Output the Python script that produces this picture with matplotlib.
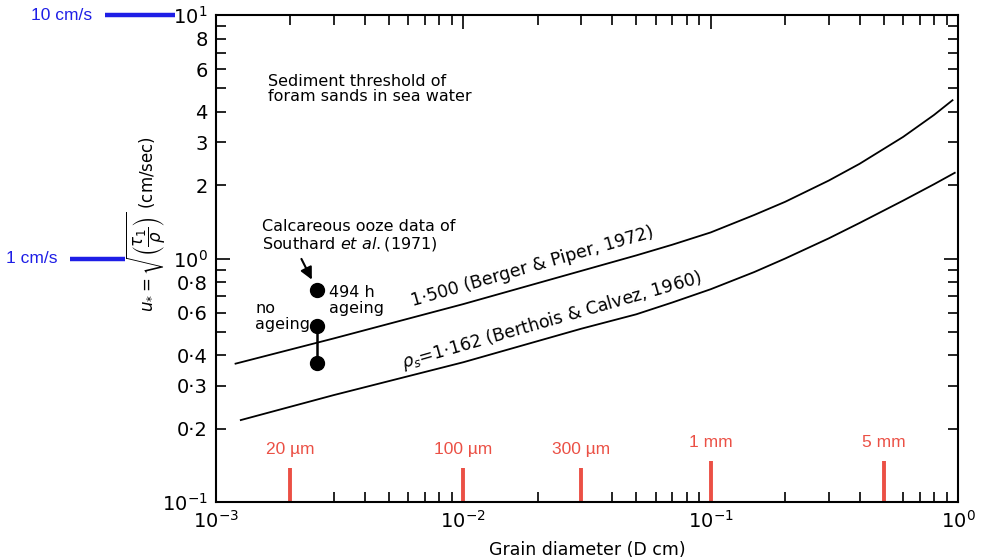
import matplotlib.pyplot as plt
import matplotlib.transforms as mtransforms
from matplotlib.ticker import FixedLocator, FixedFormatter, NullFormatter
import numpy as np

# threshold curves, grain diameter D (cm) vs u* (cm/s)
d_berger = [0.0012, 0.003, 0.01, 0.03, 0.05, 0.07, 0.1, 0.15, 0.2, 0.3, 0.4, 0.6, 0.8, 0.95]
u_berger = [0.37, 0.47, 0.65, 0.89, 1.03, 1.14, 1.28, 1.51, 1.71, 2.09, 2.45, 3.16, 3.89, 4.47]
d_berthois = [0.00126, 0.003, 0.01, 0.03, 0.05, 0.07, 0.1, 0.15, 0.2, 0.3, 0.4, 0.6, 0.8, 0.97]
u_berthois = [0.217, 0.275, 0.375, 0.515, 0.59, 0.66, 0.748, 0.88, 1.0, 1.21, 1.4, 1.73, 2.02, 2.25]

# calcareous ooze data of Southard et al. (1971)
d_ooze = 0.00255
u_aged = 0.74
u_fresh = [0.528, 0.371]

# grain size markers (cm)
size_d = [0.002, 0.01, 0.03, 0.1, 0.5]
size_labels = ['20 µm', '100 µm', '300 µm', '1 mm', '5 mm']

# reference speeds (cm/s)
ref_u = [10, 1]
ref_labels = ['10 cm/s', '1 cm/s']

fig = plt.figure(figsize=(9.83, 5.59), dpi=100)
ax = fig.add_axes([0.2197, 0.102, 0.7549, 0.871])

ax.plot(d_berger, u_berger, color='black', lw=1.3)
ax.plot(d_berthois, u_berthois, color='black', lw=1.3)

ax.plot([d_ooze, d_ooze], u_fresh, color='black', lw=1.8)
ax.plot([d_ooze] * 3, [u_aged] + u_fresh, 'o', color='black', ms=10)
ax.annotate('', xy=(0.00247, 0.80), xytext=(0.00219, 1.02),
            arrowprops=dict(arrowstyle='-|>', color='black', lw=1.5, mutation_scale=18))

ax.set_xscale('log')
ax.set_yscale('log')
ax.set_xlim(1e-3, 1)
ax.set_ylim(0.1, 10)

# texts
ax.text(0.00162, 4.97, 'Sediment threshold of\nforam sands in sea water', fontsize=11.5,
        va='center', ha='left', linespacing=1.05)
ax.text(0.00153, 1.24, 'Calcareous ooze data of\nSouthard $\\mathit{et\\ al.}$(1971)', fontsize=11.5,
        va='center', ha='left', linespacing=1.05)
ax.text(0.00144, 0.578, 'no\nageing', fontsize=11.5, va='center', ha='left', linespacing=1.15)
ax.text(0.00286, 0.673, '494 h\nageing', fontsize=11.5, va='center', ha='left', linespacing=1.05)
ax.text(0.0191, 0.93, '1·500 (Berger & Piper, 1972)', fontsize=12.5, rotation=16,
        ha='center', va='center', rotation_mode='anchor')
ax.text(0.0228, 0.555, '$\\rho_s$=1·162 (Berthois & Calvez, 1960)', fontsize=12.5, rotation=16,
        ha='center', va='center', rotation_mode='anchor')

# red grain-size markers
bar_tops = [0.138, 0.138, 0.138, 0.147, 0.147]
red = '#eb5045'
for d, lab, top in zip(size_d, size_labels, bar_tops):
    ax.plot([d, d], [0.1, top], color=red, lw=2.8, solid_capstyle='butt')
    ax.text(d, top * 1.19, lab, color=red, fontsize=12.5, ha='center', va='center',
            family='Liberation Sans')

# ticks
ax.tick_params(which='both', direction='in', top=True, right=True, width=1.2)
ax.tick_params(which='major', length=10, labelsize=14, pad=6)
ax.tick_params(which='minor', length=7, labelsize=14, pad=6)

ax.xaxis.set_major_locator(FixedLocator([1e-3, 1e-2, 1e-1, 1]))
ax.xaxis.set_major_formatter(FixedFormatter(['$10^{-3}$', '$10^{-2}$', '$10^{-1}$', '$10^{0}$']))
ax.xaxis.set_minor_locator(FixedLocator([m * 10.0 ** e for e in (-3, -2, -1) for m in range(2, 10)]))
ax.xaxis.set_minor_formatter(NullFormatter())

ax.yaxis.set_major_locator(FixedLocator([0.1, 1, 10]))
ax.yaxis.set_major_formatter(FixedFormatter(['$10^{-1}$', '$10^{0}$', '$10^{1}$']))
yminor = [m * 10.0 ** e for e in (-1, 0) for m in range(2, 10)]
ylabels = {0.2: '0·2', 0.3: '0·3', 0.4: '0·4', 0.6: '0·6', 0.8: '0·8',
           2: '2', 3: '3', 4: '4', 6: '6', 8: '8'}
ax.yaxis.set_minor_locator(FixedLocator(yminor))
ax.yaxis.set_minor_formatter(FixedFormatter([ylabels.get(round(v, 1), '') for v in yminor]))

for s in ax.spines.values():
    s.set_linewidth(1.5)

ax.set_xlabel('Grain diameter (D cm)', fontsize=12.5, labelpad=6)
ax.set_ylabel('$u_{*}=\\sqrt{\\left(\\dfrac{\\tau_1}{\\rho}\\right)}$ (cm/sec)', fontsize=12)
ax.yaxis.set_label_coords(-0.064, 0.57)

# blue reference speeds outside the axes
trans = mtransforms.blended_transform_factory(fig.transFigure, ax.transData)
blue = '#1e1ee6'
line_x = [(0.107, 0.178), (0.071, 0.127)]
for u, lab, (x0, x1) in zip(ref_u, ref_labels, line_x):
    fig.add_artist(plt.Line2D([x0, x1], [u, u], transform=trans, color=blue, lw=3.2,
                              solid_capstyle='butt'))
    fig.text(x0 - 0.013, u, lab, transform=trans, color=blue, fontsize=12.5, ha='right',
             va='center', family='Liberation Sans')

fig.savefig('out.png', dpi=100)
